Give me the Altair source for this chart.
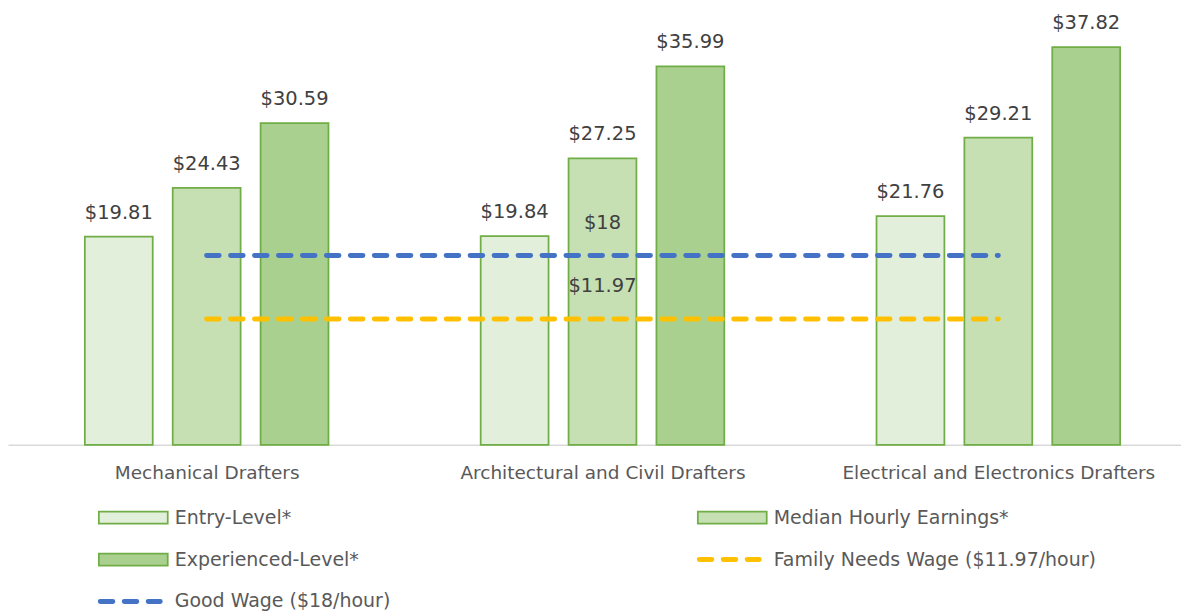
import json
import altair as alt
import pandas as pd

# ---------------- data ----------------
occupations = ["Mechanical Drafters", "Architectural and Civil Drafters",
               "Electrical and Electronics Drafters"]
levels = ["Entry-Level*", "Median Hourly Earnings*", "Experienced-Level*"]
entry = [19.81, 19.84, 21.76]
median = [24.43, 27.25, 29.21]
experienced = [30.59, 35.99, 37.82]
line_names = ["Good Wage ($18/hour)", "Family Needs Wage ($11.97/hour)"]
line_values = [18, 11.97]

# ---------------- style ----------------
FONT = "DejaVu Sans"
bar_fills = ["#E2EFDA", "#C6E0B4", "#A9D08E"]
bar_stroke = "#70AD47"
line_colors = ["#4472C4", "#FFC000"]
W = 1175
H = 437

rows = []
for i, occ in enumerate(occupations):
    for j, vals in enumerate([entry, median, experienced]):
        rows.append({"occ": occ, "gi": i, "li": j, "level": levels[j], "value": vals[i]})
bars_df = pd.DataFrame(rows)

lines_df = pd.DataFrame({
    "name": line_names,
    "value": line_values,
    "start": [0, 0],
    "end": [len(occupations) - 1] * 2,
    "mid": [(len(occupations) - 1) / 2] * 2,
})

xs = alt.Scale(domain=[-0.5019, 2.4615], nice=False, zero=False, padding=0)
ys = alt.Scale(domain=[0, 41.5], nice=False, zero=True, padding=0)
xaxis = alt.Axis(values=[0, 1, 2], labelExpr=json.dumps(occupations) + "[datum.value]",
                 ticks=False, grid=False, domainColor="#D9D9D9", domainWidth=1.5,
                 labelFont=FONT, labelFontSize=18.5, labelColor="#595959", labelLimit=0,
                 labelPadding=19, labelFlush=False, labelOverlap=False, title=None)
fill_scale = alt.Scale(domain=levels, range=bar_fills)
color_scale = alt.Scale(domain=line_names, range=line_colors)

base = alt.Chart(bars_df).transform_calculate(pos="datum.gi + (datum.li - 1) * 0.222")

bars = base.mark_bar(size=68, stroke=bar_stroke, strokeWidth=1.75).encode(
    x=alt.X("pos:Q", scale=xs, axis=xaxis),
    y=alt.Y("value:Q", scale=ys, axis=None),
    fill=alt.Fill("level:N", scale=fill_scale, legend=None),
)
bar_labels = base.mark_text(baseline="alphabetic", dy=-18, font=FONT, fontSize=19.5,
                            color="#404040").encode(
    x=alt.X("pos:Q", scale=xs, axis=xaxis),
    y=alt.Y("value:Q", scale=ys, axis=None),
    text=alt.Text("value:Q", format="$.2f"),
)
rules = alt.Chart(lines_df).mark_rule(strokeWidth=5, strokeDash=[12.5, 11.5],
                                      strokeCap="round").encode(
    x=alt.X("start:Q", scale=xs, axis=xaxis),
    x2="end:Q",
    y=alt.Y("value:Q", scale=ys, axis=None),
    color=alt.Color("name:N", scale=color_scale, legend=None),
)
rule_labels = alt.Chart(lines_df).transform_calculate(
    lbl="'$' + datum.value").mark_text(baseline="alphabetic", dy=-27, font=FONT,
                                       fontSize=19.5, color="#404040").encode(
    x=alt.X("mid:Q", scale=xs, axis=xaxis),
    y=alt.Y("value:Q", scale=ys, axis=None),
    text="lbl:N",
)
main = alt.layer(bars, rules, bar_labels, rule_labels).properties(width=W, height=H)

# ---------------- legend ----------------
LH = 124
leg_names = levels + line_names
leg_kind = ["rect", "rect", "rect", "line", "line"]
leg_col = [0, 1, 0, 0, 1]
leg_row = [0, 0, 1, 2, 1]
leg_df = pd.DataFrame({"name": leg_names, "kind": leg_kind, "col": leg_col, "row": leg_row})

lx = alt.Scale(domain=[0, W], nice=False, zero=False, padding=0)
ly = alt.Scale(domain=[0, LH], nice=False, zero=False, reverse=True, padding=0)
lbase = alt.Chart(leg_df).transform_calculate(
    ry="35 + datum.row * 42",
    sx="91 + datum.col * 600",
    sx2="160 + datum.col * 600",
    lx="92.5 + datum.col * 600",
    lx2="152.5 + datum.col * 600",
    tx="167 + datum.col * 600",
    ry1="datum.ry - 6",
    ry2="datum.ry + 6",
)
leg_rects = lbase.transform_filter("datum.kind == 'rect'").mark_rect(
    stroke=bar_stroke, strokeWidth=1.75).encode(
    x=alt.X("sx:Q", scale=lx, axis=None), x2="sx2:Q",
    y=alt.Y("ry1:Q", scale=ly, axis=None), y2="ry2:Q",
    fill=alt.Fill("name:N", scale=fill_scale, legend=None),
)
leg_lines = lbase.transform_filter("datum.kind == 'line'").mark_rule(
    strokeWidth=5, strokeDash=[12.5, 11.5], strokeCap="round").encode(
    x=alt.X("lx:Q", scale=lx, axis=None), x2="lx2:Q",
    y=alt.Y("ry:Q", scale=ly, axis=None),
    color=alt.Color("name:N", scale=color_scale, legend=None),
)
leg_text = lbase.mark_text(align="left", baseline="middle", font=FONT, fontSize=19,
                           color="#595959").encode(
    x=alt.X("tx:Q", scale=lx, axis=None),
    y=alt.Y("ry:Q", scale=ly, axis=None),
    text="name:N",
)
legend = alt.layer(leg_rects, leg_lines, leg_text).properties(width=W, height=LH)

chart = alt.vconcat(main, legend, spacing=0, padding=0).configure_view(stroke=None)
chart.save("out.html", embed_options={"renderer": "svg", "actions": False})
